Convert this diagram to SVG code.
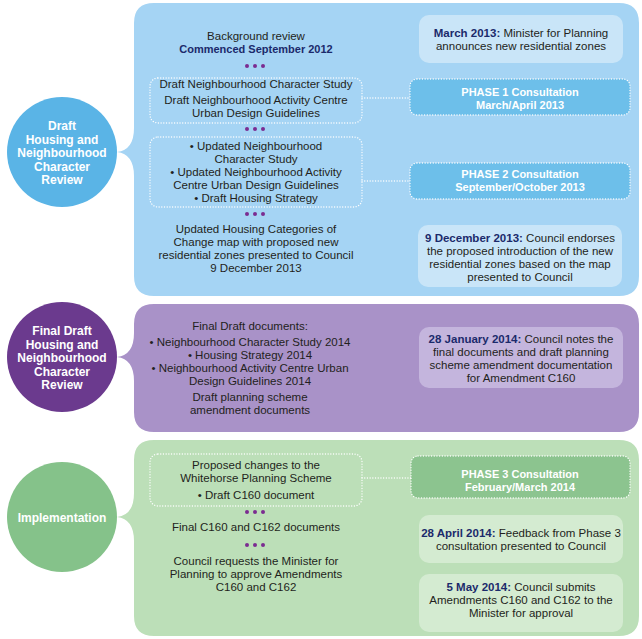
<svg xmlns="http://www.w3.org/2000/svg" width="642" height="639" viewBox="0 0 642 639">
<style>
text{font-family:"Liberation Sans",Arial,sans-serif;font-size:11.5px;fill:#231f20;text-anchor:middle}
.n{font-weight:bold;fill:#1b2a6b}
.s{font-size:11px}
.w{fill:#fff;font-weight:bold;font-size:11px}
.c{font-size:12px}
.dot{stroke:#fff;stroke-width:1.3;stroke-dasharray:0.1 2.6;stroke-linecap:round;fill:none}
.pd{fill:#7b2c91}
</style>
<defs>
<g id="dots"><circle cx="-8" cy="0" r="2"/><circle cx="0" cy="0" r="2"/><circle cx="8" cy="0" r="2"/></g>
</defs>
<rect width="642" height="639" fill="#fff"/>

<!-- Panel 1 -->
<g id="panel-draft">
<path d="M154,3 H619 Q639,3 639,23 V276 Q639,296 619,296 H154 Q134,296 134,276 V176 Q134,154 117,152 Q134,150 134,128 V23 Q134,3 154,3 Z" fill="#a5d4f4"/>
</g>
<g id="circle-draft">
<circle cx="62" cy="152" r="55" fill="#5ab4e6"/>
<text class="w c" x="62" y="130">Draft</text>
<text class="w c" x="62" y="143.5">Housing and</text>
<text class="w c" x="62" y="157">Neighbourhood</text>
<text class="w c" x="62" y="170.5">Character</text>
<text class="w c" x="62" y="184">Review</text>
</g>
<g id="background-review">
<text x="256" y="40">Background review</text>
<text class="n s" x="256" y="53">Commenced September 2012</text>
</g>
<g id="draft-studies">
<rect class="dot" x="150" y="78" width="212" height="45" rx="8"/>
<text x="256" y="88">Draft Neighbourhood Character Study</text>
<text x="256" y="104">Draft Neighbourhood Activity Centre</text>
<text x="256" y="117">Urban Design Guidelines</text>
</g>
<g id="updated-studies">
<rect class="dot" x="150" y="137" width="212" height="70" rx="8"/>
<text x="256" y="150">• Updated Neighbourhood</text>
<text x="256" y="163">Character Study</text>
<text x="256" y="176">• Updated Neighbourhood Activity</text>
<text x="256" y="189">Centre Urban Design Guidelines</text>
<text x="256" y="202">• Draft Housing Strategy</text>
</g>
<g id="updated-map">
<text x="256" y="233">Updated Housing Categories of</text>
<text x="256" y="246">Change map with proposed new</text>
<text x="256" y="259">residential zones presented to Council</text>
<text x="256" y="272">9 December 2013</text>
</g>
<g id="march-2013">
<rect x="419" y="15" width="204" height="48" rx="10" fill="#c9e5f8"/>
<text x="521" y="37"><tspan class="n">March 2013:</tspan> Minister for Planning</text>
<text x="521" y="50">announces new residential zones</text>
</g>
<g id="phase-1">
<rect x="410" y="79" width="220" height="36" rx="7" fill="#6dbfea"/>
<rect class="dot" x="410" y="79" width="220" height="36" rx="7"/>
<text class="w" x="520" y="96">PHASE 1 Consultation</text>
<text class="w" x="520" y="109">March/April 2013</text>
</g>
<g id="phase-2">
<rect x="410" y="163" width="220" height="36" rx="7" fill="#6dbfea"/>
<rect class="dot" x="410" y="163" width="220" height="36" rx="7"/>
<text class="w" x="520" y="178">PHASE 2 Consultation</text>
<text class="w" x="520" y="191">September/October 2013</text>
</g>
<g id="dec-2013">
<rect x="418" y="225" width="204" height="62" rx="10" fill="#c9e5f8"/>
<text x="520" y="242"><tspan class="n">9 December 2013:</tspan> Council endorses</text>
<text x="520" y="255">the proposed introduction of the new</text>
<text x="520" y="268">residential zones based on the map</text>
<text x="520" y="281">presented to Council</text>
</g>

<!-- Panel 2 -->
<g id="panel-final">
<path d="M154,304 H619 Q639,304 639,324 V412 Q639,432 619,432 H154 Q134,432 134,412 V381 Q134,359 117,357 Q134,355 134,333 V324 Q134,304 154,304 Z" fill="#a992c8"/>
</g>
<g id="circle-final">
<circle cx="62" cy="357" r="55" fill="#6b3a8e"/>
<text class="w c" x="62" y="335">Final Draft</text>
<text class="w c" x="62" y="348.5">Housing and</text>
<text class="w c" x="62" y="362">Neighbourhood</text>
<text class="w c" x="62" y="375.5">Character</text>
<text class="w c" x="62" y="389">Review</text>
</g>
<g id="final-documents">
<text x="250" y="330">Final Draft documents:</text>
<text x="250" y="346">• Neighbourhood Character Study 2014</text>
<text x="250" y="359">• Housing Strategy 2014</text>
<text x="250" y="372">• Neighbourhood Activity Centre Urban</text>
<text x="250" y="385">Design Guidelines 2014</text>
<text x="250" y="401">Draft planning scheme</text>
<text x="250" y="414">amendment documents</text>
</g>
<g id="jan-2014">
<rect x="419" y="327" width="204" height="61" rx="10" fill="#c4b5dd"/>
<text x="521" y="343"><tspan class="n">28 January 2014:</tspan> Council notes the</text>
<text x="521" y="356">final documents and draft planning</text>
<text x="521" y="369">scheme amendment documentation</text>
<text x="521" y="382">for Amendment C160</text>
</g>

<!-- Panel 3 -->
<g id="panel-implementation">
<path d="M154,440 H619 Q639,440 639,460 V616 Q639,636 619,636 H154 Q134,636 134,616 V541 Q134,519 117,517 Q134,515 134,493 V460 Q134,440 154,440 Z" fill="#bcdfb8"/>
</g>
<g id="circle-implementation">
<circle cx="62" cy="517" r="55" fill="#85c28a"/>
<text class="w c" x="62" y="522">Implementation</text>
</g>
<g id="proposed-changes">
<rect class="dot" x="150" y="454" width="212" height="52" rx="8"/>
<text x="256" y="469">Proposed changes to the</text>
<text x="256" y="482">Whitehorse Planning Scheme</text>
<text x="256" y="499">• Draft C160 document</text>
</g>
<g id="final-c160">
<text x="256" y="531">Final C160 and C162 documents</text>
</g>
<g id="council-requests">
<text x="256" y="565">Council requests the Minister for</text>
<text x="256" y="578">Planning to approve Amendments</text>
<text x="256" y="591">C160 and C162</text>
</g>
<g id="phase-3">
<rect x="411" y="456" width="219" height="42" rx="7" fill="#8cc48f"/>
<rect class="dot" x="411" y="456" width="219" height="42" rx="7"/>
<text class="w" x="520" y="478">PHASE 3 Consultation</text>
<text class="w" x="520" y="491">February/March 2014</text>
</g>
<g id="apr-2014">
<rect x="419" y="515" width="204" height="48" rx="10" fill="#d4ebd1"/>
<text x="521" y="537"><tspan class="n">28 April 2014:</tspan> Feedback from Phase 3</text>
<text x="521" y="550">consultation presented to Council</text>
</g>
<g id="may-2014">
<rect x="419" y="574" width="204" height="58" rx="10" fill="#d4ebd1"/>
<text x="521" y="591"><tspan class="n">5 May 2014:</tspan> Council submits</text>
<text x="521" y="604">Amendments C160 and C162 to the</text>
<text x="521" y="617">Minister for approval</text>
</g>

<!-- Connectors -->
<g id="connectors">
<path class="dot" d="M362,98 H410 M362,181 H410 M362,478 H411"/>
<g class="pd">
<use href="#dots" x="255" y="66"/>
<use href="#dots" x="255" y="129"/>
<use href="#dots" x="255" y="214"/>
<use href="#dots" x="255" y="512"/>
<use href="#dots" x="255" y="545"/>
</g>
</g>
</svg>
